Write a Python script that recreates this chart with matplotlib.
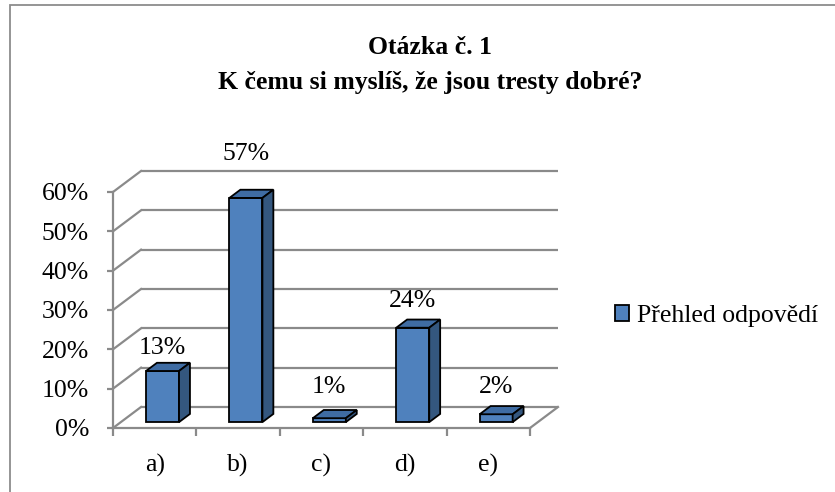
import matplotlib
matplotlib.use('Agg')
import matplotlib.pyplot as plt
from matplotlib.patches import Polygon, Rectangle, Patch

#### DATA ####
categories = ['a)', 'b)', 'c)', 'd)', 'e)']
values = [0.13, 0.57, 0.01, 0.24, 0.02]
series_name = 'Přehled odpovědí'
title_lines = ['Otázka č. 1', 'K čemu si myslíš, že jsou tresty dobré?']
y_ticks = [0, 0.1, 0.2, 0.3, 0.4, 0.5, 0.6]
y_tick_labels = ['0%', '10%', '20%', '30%', '40%', '50%', '60%']

plt.rcParams['font.family'] = ['Liberation Serif', 'DejaVu Serif']

W, H = 835, 492
fig = plt.figure(figsize=(W / 100, H / 100), dpi=100)
# front plane of the plot area in pixels
left, bottom, right, top = 113, 428, 530, 192
ax = fig.add_axes([left / W, 1 - bottom / H, (right - left) / W, (bottom - top) / H])
ax.set_xlim(0, len(categories))
ax.set_ylim(0, 0.6)

px_x = (right - left) / len(categories)   # pixels per category
px_y = (bottom - top) / 0.6                # pixels per unit value
Dx = 28 / px_x      # depth offset in data units
Dy = 21 / px_y

grid_c = '#8a8a8a'
lw_grid = 1.6

# back wall + side wall gridlines
for v in y_ticks:
    ax.plot([Dx, len(categories) + Dx], [v + Dy, v + Dy], color=grid_c, lw=lw_grid,
            clip_on=False, zorder=1, solid_capstyle='butt')
    ax.plot([0, Dx], [v, v + Dy], color=grid_c, lw=lw_grid, clip_on=False, zorder=1)
# floor right edge
ax.plot([len(categories), len(categories) + Dx], [0, Dy], color=grid_c, lw=lw_grid,
        clip_on=False, zorder=1)

# 3D bars
front_c = '#4f81bd'
top_c = '#3f6ca3'
side_c = '#34577f'
half_w = 16.5 / px_x
z0, z1 = 0.28, 0.67
for i, v in enumerate(values):
    xc = i + 0.5
    x0, x1 = xc - half_w, xc + half_w
    front = Rectangle((x0 + z0 * Dx, z0 * Dy), x1 - x0, v, facecolor=front_c,
                      edgecolor='black', lw=1.3, clip_on=False, zorder=3)
    topf = Polygon([(x0 + z0 * Dx, v + z0 * Dy), (x1 + z0 * Dx, v + z0 * Dy),
                    (x1 + z1 * Dx, v + z1 * Dy), (x0 + z1 * Dx, v + z1 * Dy)],
                   closed=True, facecolor=top_c, edgecolor='black', lw=1.3,
                   clip_on=False, zorder=3)
    side = Polygon([(x1 + z0 * Dx, z0 * Dy), (x1 + z1 * Dx, z1 * Dy),
                    (x1 + z1 * Dx, v + z1 * Dy), (x1 + z0 * Dx, v + z0 * Dy)],
                   closed=True, facecolor=side_c, edgecolor='black', lw=1.3,
                   clip_on=False, zorder=3)
    for p in (front, topf, side):
        ax.add_patch(p)

# data labels
label_pad = [15, 36, 23, 18.5, 19]   # pixels above bar top
for i, v in enumerate(values):
    ax.text(i + 0.5 + z0 * Dx, v + z1 * Dy + label_pad[i] / px_y, f'{round(v * 100)}%',
            ha='center', va='center', fontsize=18.5, clip_on=False, zorder=4)

# axes styling
for s in ['top', 'right']:
    ax.spines[s].set_visible(False)
for s in ['left', 'bottom']:
    ax.spines[s].set_color(grid_c)
    ax.spines[s].set_linewidth(lw_grid)
    ax.spines[s].set_zorder(2)
ax.set_facecolor('none')
ax.set_yticks(y_ticks, y_tick_labels)
ax.tick_params(axis='y', length=4.3, width=lw_grid, color=grid_c, pad=13, labelsize=18.5)
ax.set_xticks(range(len(categories) + 1), [''] * (len(categories) + 1))
ax.tick_params(axis='x', which='major', length=5.8, width=lw_grid, color=grid_c)
ax.set_xticks([i + 0.5 for i in range(len(categories))], categories, minor=True)
ax.tick_params(axis='x', which='minor', length=0, pad=19, labelsize=18.5)

# title
fig.text(430 / W, 1 - 47 / H, title_lines[0], ha='center', va='center',
         fontsize=18.5, fontweight='bold')
fig.text(430 / W, 1 - 83 / H, title_lines[1], ha='center', va='center',
         fontsize=18.5, fontweight='bold')

# legend
handle = Patch(facecolor=front_c, edgecolor='black', lw=1.3, label=series_name)
fig.legend(handles=[handle], loc='center left', bbox_to_anchor=(615 / W, 1 - 316 / H),
           frameon=False, fontsize=18.5, handlelength=0.56, handleheight=0.56,
           handletextpad=0.3, borderpad=0, borderaxespad=0)

# outer chart border (cropped at right/bottom)
fig.patches.append(Rectangle((10 / W, -0.1), 2, 1 - 5 / H + 0.1, transform=fig.transFigure,
                             fill=False, edgecolor='#8c8c8c', lw=1.3))

fig.savefig('out.png', dpi=100)
